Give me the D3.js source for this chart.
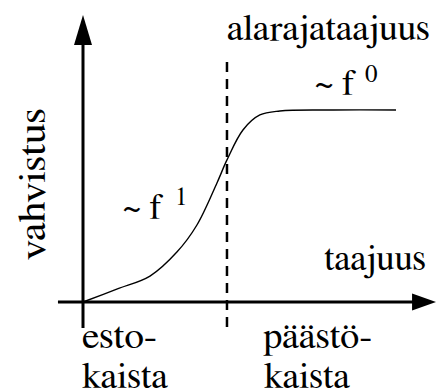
<!DOCTYPE html>
<html>
<head>
<meta charset="utf-8">
<script src="https://cdn.jsdelivr.net/npm/d3@7"></script>
<style>
  body { margin: 0; background: #fff; }
</style>
</head>
<body>
<div id="wrapper"></div>
<script>
// gain curve of a high pass filter
// frequency and gain both in relative units (0..1)
const freq = [0, 0.11, 0.214, 0.30, 0.364, 0.428, 0.46, 0.511, 0.565, 0.629, 0.80, 1.0]
const gain = [0, 0.068, 0.135, 0.26, 0.401, 0.620, 0.740, 0.896, 0.974, 0.995, 1.0, 1.0]

// where the lower cutoff frequency sits
const cutoff = 0.46

// axis extents (relative units) incl. the arrow tips
const xAxisExtent = [-0.08, 1.128]
const yAxisExtent = [-0.135, 1.495]
const cutoffExtent = [-0.135, 1.25]

const labels = {
  yTitle: "vahvistus",
  xTitle: "taajuus",
  cutoff: "alarajataajuus",
  stop: ["esto-", "kaista"],
  pass: ["päästö-", "kaista"],
  slopeLow: ["~ f", "1"],
  slopeHigh: ["~ f", "0"],
}

function drawChart(){
    let dimensions = {
        width: 436,
        height: 392,
    }

    const wrapper = d3.select("#wrapper").append("svg")
                .attr("width", dimensions.width)
                .attr("height", dimensions.height)

    const bounds = wrapper.append("g")

    //scales
    const xScale = d3.scaleLinear()
        .domain([0, 1])
        .range([83, 396])

    const yScale = d3.scaleLinear()
        .domain([0, 1])
        .range([302, 110])

    //x axis with arrow
    const x0 = xScale(xAxisExtent[0]), x1 = xScale(xAxisExtent[1]), y0 = yScale(0)
    bounds.append("line")
        .attr("x1", x0).attr("x2", x1 - 20)
        .attr("y1", y0).attr("y2", y0)
        .attr("stroke", "#000")
        .attr("stroke-width", 3)
    bounds.append("path")
        .attr("d", `M${x1},${y0} L${x1 - 24},${y0 - 8.5} L${x1 - 24},${y0 + 8.5} Z`)
        .attr("fill", "#000")

    //y axis with arrow
    const xa = xScale(0), ya0 = yScale(yAxisExtent[0]), ya1 = yScale(yAxisExtent[1])
    bounds.append("line")
        .attr("x1", xa).attr("x2", xa)
        .attr("y1", ya0).attr("y2", ya1 + 25)
        .attr("stroke", "#000")
        .attr("stroke-width", 3)
    bounds.append("path")
        .attr("d", `M${xa},${ya1} L${xa - 9},${ya1 + 30} L${xa + 9},${ya1 + 30} Z`)
        .attr("fill", "#000")

    //dashed cutoff line
    bounds.append("line")
        .attr("x1", xScale(cutoff)).attr("x2", xScale(cutoff))
        .attr("y1", yScale(cutoffExtent[1])).attr("y2", yScale(cutoffExtent[0]))
        .attr("stroke", "#000")
        .attr("stroke-width", 2.5)
        .attr("stroke-dasharray", "10,7")

    //the curve
    const points = freq.map((f, i) => ({f: f, g: gain[i]}))
    const lineGenerator = d3.line()
        .x(d => xScale(d.f))
        .y(d => yScale(d.g))
        .curve(d3.curveCatmullRom)

    bounds.append("path")
        .attr("d", lineGenerator(points))
        .attr("fill", "none")
        .attr("stroke", "#000")
        .attr("stroke-width", 1.4)

    //texts
    // squeeze each label to the width it has in the picture
    const big = 37, small = 25
    const addText = (x, y, size, t, width) => {
        const el = bounds.append("text")
            .attr("x", x).attr("y", y)
            .attr("font-family", "'FreeSerif', 'Liberation Serif', serif")
            .attr("font-size", size)
            .attr("fill", "#000")
            .text(t)
        if (width) el.attr("textLength", width).attr("lengthAdjust", "spacingAndGlyphs")
        return el
    }

    addText(0, 0, 38, labels.yTitle, 152)
        .attr("transform", "translate(45,184) rotate(-90)")
        .attr("text-anchor", "middle")

    addText(324, 270, big, labels.xTitle, 102)
    addText(227, 40, big, labels.cutoff, 203)

    addText(82, 348, big, labels.stop[0], 75)
    addText(82, 388, big, labels.stop[1], 86)
    addText(263, 348, big, labels.pass[0], 109)
    addText(264, 388, big, labels.pass[1], 86)

    //slope notes
    addText(123, 219, big, labels.slopeLow[0], 40)
    addText(175, 205, small, labels.slopeLow[1])
    addText(315, 95, big, labels.slopeHigh[0], 41)
    addText(365, 82, small, labels.slopeHigh[1])
}

drawChart()
</script>
</body>
</html>
